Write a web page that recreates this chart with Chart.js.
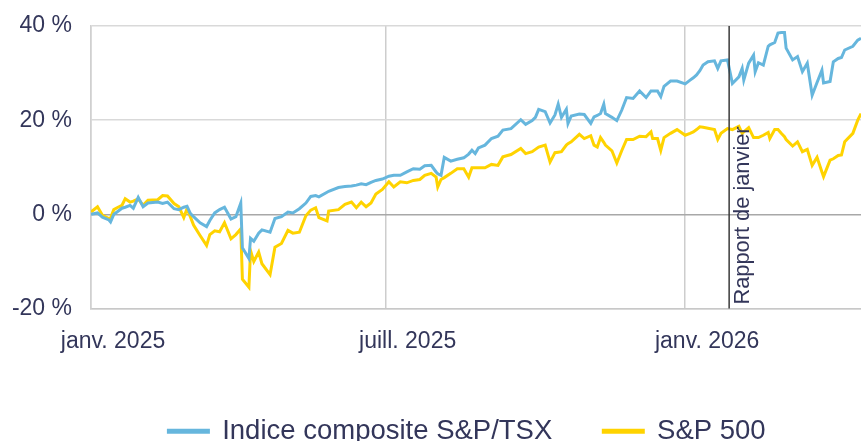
<!DOCTYPE html>
<html lang="fr">
<head>
<meta charset="utf-8">
<script src="https://cdn.jsdelivr.net/npm/chart.js@4.4.1/dist/chart.umd.min.js"></script>
<style>
  html, body { margin: 0; padding: 0; background: #fff; overflow: hidden; }
  #wrap { width: 861px; height: 455px; position: relative; }
</style>
</head>
<body>
<div id="wrap"><canvas id="perfChart"></canvas></div>
<script>
// cumulative return since 2025-01-01, in %
const dates = [
  "2025-01-01","2025-01-05","2025-01-08","2025-01-12","2025-01-13","2025-01-15","2025-01-17","2025-01-20","2025-01-22","2025-01-25",
  "2025-01-27","2025-01-30","2025-02-02","2025-02-05","2025-02-11","2025-02-14","2025-02-17","2025-02-21","2025-02-24","2025-02-27",
  "2025-03-01","2025-03-03","2025-03-05","2025-03-09","2025-03-13","2025-03-15","2025-03-18","2025-03-21","2025-03-24","2025-03-28",
  "2025-03-31","2025-04-03","2025-04-04","2025-04-08","2025-04-09","2025-04-11","2025-04-14","2025-04-16","2025-04-21","2025-04-24",
  "2025-04-28","2025-05-02","2025-05-05","2025-05-09","2025-05-13","2025-05-16","2025-05-19","2025-05-21","2025-05-26","2025-05-27",
  "2025-06-02","2025-06-06","2025-06-10","2025-06-13","2025-06-16","2025-06-19","2025-06-22","2025-06-25","2025-06-29","2025-07-03",
  "2025-07-06","2025-07-10","2025-07-14","2025-07-18","2025-07-22","2025-07-25","2025-07-29","2025-08-01","2025-08-02","2025-08-04",
  "2025-08-06","2025-08-10","2025-08-14","2025-08-18","2025-08-21","2025-08-23","2025-08-25","2025-08-27","2025-08-31","2025-09-04",
  "2025-09-08","2025-09-11","2025-09-16","2025-09-22","2025-09-25","2025-09-29","2025-10-01","2025-10-03","2025-10-07","2025-10-10",
  "2025-10-13","2025-10-15","2025-10-17","2025-10-20","2025-10-21","2025-10-23","2025-10-28","2025-10-31","2025-11-04","2025-11-06",
  "2025-11-08","2025-11-10","2025-11-12","2025-11-13","2025-11-17","2025-11-20","2025-11-23","2025-11-26","2025-11-30","2025-12-04",
  "2025-12-08","2025-12-11","2025-12-12","2025-12-15","2025-12-17","2025-12-19","2025-12-23","2025-12-27","2026-01-01","2026-01-04",
  "2026-01-06","2026-01-08","2026-01-10","2026-01-12","2026-01-15","2026-01-19","2026-01-21","2026-01-23","2026-01-27","2026-01-30",
  "2026-02-03","2026-02-05","2026-02-06","2026-02-09","2026-02-12","2026-02-13","2026-02-15","2026-02-18","2026-02-21","2026-02-22",
  "2026-02-25","2026-02-27","2026-03-01","2026-03-03","2026-03-04","2026-03-08","2026-03-11","2026-03-14","2026-03-17","2026-03-20",
  "2026-03-23","2026-03-26","2026-03-27","2026-03-31","2026-04-02","2026-04-05","2026-04-07","2026-04-09","2026-04-14","2026-04-17",
  "2026-04-19"
];

const tsx = [
  0, 0.3, -0.6, -1.2, -1.6, 0, 0.5, 1.3, 1.5, 1.9,
  1.3, 3.6, 1.6, 2.4, 2.6, 2.3, 2.6, 1.2, 1.0, 1.5,
  1.7, 0.2, -0.5, -1.8, -2.6, -1.3, 0.3, 1.0, 1.5, -1.0,
  -0.5, 2.4, -7.1, -9.4, -5.1, -5.7, -4.0, -3.3, -3.8, -0.9,
  -0.5, 0.5, 0.3, 1.2, 2.4, 3.8, 4.0, 3.7, 4.7, 4.9,
  5.7, 5.9, 6.0, 6.2, 6.5, 6.3, 6.8, 7.2, 7.5, 8.1,
  8.3, 8.3, 9.0, 9.7, 9.6, 10.3, 10.4, 9.0, 8.6, 8.3,
  12.1, 11.3, 11.7, 12.0, 12.8, 13.6, 12.9, 14.1, 14.7, 16.1,
  16.6, 17.9, 18.2, 20.1, 19.1, 19.9, 20.6, 22.3, 21.8, 19.4,
  21.1, 23.4, 20.6, 22.3, 19.3, 20.9, 21.3, 21.2, 19.3, 20.7,
  21.0, 21.4, 23.4, 21.4, 20.6, 19.9, 22.1, 24.8, 24.6, 26.2,
  24.8, 26.2, 26.2, 26.2, 25.0, 27.2, 28.3, 28.3, 27.7, 28.5,
  29.0, 29.6, 30.5, 31.7, 32.4, 32.6, 31.0, 32.6, 32.8, 27.8,
  29.2, 31.0, 28.5, 32.1, 33.8, 30.3, 32.2, 31.7, 35.7, 36.0,
  36.5, 38.5, 38.6, 38.6, 35.3, 32.8, 33.5, 30.3, 32.1, 25.3,
  28.0, 30.6, 27.9, 28.2, 32.4, 33.1, 33.3, 34.9, 35.7, 37.0,
  37.4
];

const sp500 = [
  0.5, 1.6, -0.2, -0.9, -0.8, 1.0, 1.4, 1.9, 3.3, 2.6,
  2.8, 3.3, 1.9, 3.0, 3.1, 4.0, 3.9, 2.3, 1.6, -0.7,
  1.2, -0.5, -2.3, -4.5, -6.6, -4.3, -3.5, -3.7, -1.8, -5.2,
  -4.3, -3.1, -13.8, -15.5, -7.7, -10.0, -8.0, -10.5, -12.8, -7.0,
  -6.2, -3.4, -4.0, -3.8, -0.3, 0.9, 1.4, -0.7, -1.4, 0.7,
  1.0, 2.1, 2.6, 1.4, 2.6, 1.6, 2.4, 4.3, 5.3, 6.9,
  5.8, 6.9, 6.7, 7.2, 7.4, 8.3, 8.7, 7.9, 5.8, 7.4,
  7.8, 8.7, 9.7, 9.7, 7.9, 9.9, 9.9, 9.9, 9.9, 10.6,
  10.4, 12.2, 12.7, 14.0, 12.9, 13.3, 13.8, 14.3, 14.7, 11.1,
  13.1, 13.2, 13.3, 14.7, 15.0, 15.4, 17.0, 16.1, 16.7, 14.7,
  14.3, 16.3, 15.3, 14.7, 13.5, 10.9, 13.5, 15.9, 15.9, 16.6,
  16.5, 17.5, 16.1, 16.1, 13.6, 16.3, 17.2, 18.0, 16.8, 17.2,
  17.5, 18.0, 18.6, 18.5, 18.3, 18.0, 15.9, 17.2, 18.2, 18.0,
  18.7, 17.2, 17.5, 18.4, 16.3, 16.3, 16.3, 16.8, 17.4, 16.1,
  18.0, 18.0, 17.2, 16.5, 15.9, 14.5, 15.4, 13.3, 13.8, 10.4,
  12.1, 9.0, 8.0, 11.5, 11.8, 12.5, 12.6, 15.4, 17.2, 20.0,
  21.4
];

const seriesNames = ["Indice composite S&P/TSX", "S&P 500"];
const tickDates = ["2025-01-01", "2025-07-01", "2026-01-01"];
const tickLabels = ["janv. 2025", "juill. 2025", "janv. 2026"];
const reportDate = "2026-01-28";
const reportLabel = "Rapport de janvier";

const TEXT = "#33365a";
const FONT = "'Liberation Sans', Arial, sans-serif";

const toDay = (s) => (Date.parse(s) - Date.parse(dates[0])) / 86400000;
const tickDays = tickDates.map(toDay);

const reportLine = {
  id: "reportLine",
  afterDatasetsDraw(chart) {
    const { ctx, chartArea, scales } = chart;
    const x = scales.x.getPixelForValue(toDay(reportDate));
    ctx.save();
    ctx.strokeStyle = "#3a3a3a";
    ctx.lineWidth = 1.5;
    ctx.beginPath();
    ctx.moveTo(x, chartArea.top);
    ctx.lineTo(x, chartArea.bottom);
    ctx.stroke();
    // label reads bottom to top, right of the line
    ctx.translate(x + 3, chartArea.bottom - 4);
    ctx.rotate(-Math.PI / 2);
    ctx.fillStyle = TEXT;
    ctx.font = "21.8px " + FONT;
    ctx.textAlign = "left";
    ctx.textBaseline = "top";
    ctx.fillText(reportLabel, 0, 0);
    ctx.restore();
  }
};

// legend sits a little left of the plot centre in the original
const legendShift = {
  id: "legendShift",
  afterLayout(chart) {
    chart.legend.left -= 9;
    chart.legend.right -= 9;
  }
};

new Chart(document.getElementById("perfChart"), {
  type: "line",
  data: {
    datasets: [
      {
        label: seriesNames[0],
        data: dates.map((d, i) => ({ x: toDay(d), y: tsx[i] })),
        borderColor: "#66b6dd",
        backgroundColor: "#66b6dd",
        borderWidth: 3,
        pointRadius: 0,
        tension: 0,
      },
      {
        label: seriesNames[1],
        data: dates.map((d, i) => ({ x: toDay(d), y: sp500[i] })),
        borderColor: "#ffd300",
        backgroundColor: "#ffd300",
        borderWidth: 3,
        pointRadius: 0,
        tension: 0,
      },
    ],
  },
  options: {
    responsive: true,
    maintainAspectRatio: false,
    animation: false,
    layout: { padding: { top: 26, right: 0, left: 0, bottom: 0 } },
    scales: {
      x: {
        type: "linear",
        min: 0,
        max: toDay(dates[dates.length - 1]),
        afterBuildTicks: (scale) => {
          scale.ticks = tickDays.map((v) => ({ value: v }));
        },
        afterFit: (scale) => {
          scale.height = 58;
        },
        grid: { color: "#cdcdcd", lineWidth: 1.5, drawTicks: false },
        border: { color: "#c8c8c8", width: 1.5 },
        ticks: {
          autoSkip: false,
          maxRotation: 0,
          padding: 19,
          labelOffset: 22,
          color: TEXT,
          font: { family: FONT, size: 23 },
          callback: (value, index) => tickLabels[index],
        },
      },
      y: {
        min: -20,
        max: 40,
        afterFit: (scale) => {
          scale.width = 91;
          // keep the label padding from pushing the plot down
          scale.paddingTop = 0;
          scale.paddingBottom = 0;
        },
        grid: {
          color: (c) => (c.tick.value === 0 ? "#a8a8a8" : "#d9d9d9"),
          lineWidth: 1.5,
          drawTicks: false,
        },
        border: { color: "#d0d0d0", width: 1.5 },
        ticks: {
          stepSize: 20,
          padding: 19,
          color: TEXT,
          font: { family: FONT, size: 23 },
          callback: (v) => v + " %",
        },
      },
    },
    plugins: {
      legend: {
        position: "bottom",
        fullSize: false,
        labels: {
          boxWidth: 40,
          boxHeight: 2,
          padding: 51,
          color: TEXT,
          font: { family: FONT, size: 27.5 },
        },
      },
      tooltip: { enabled: false },
    },
  },
  plugins: [reportLine, legendShift],
});
</script>
</body>
</html>
